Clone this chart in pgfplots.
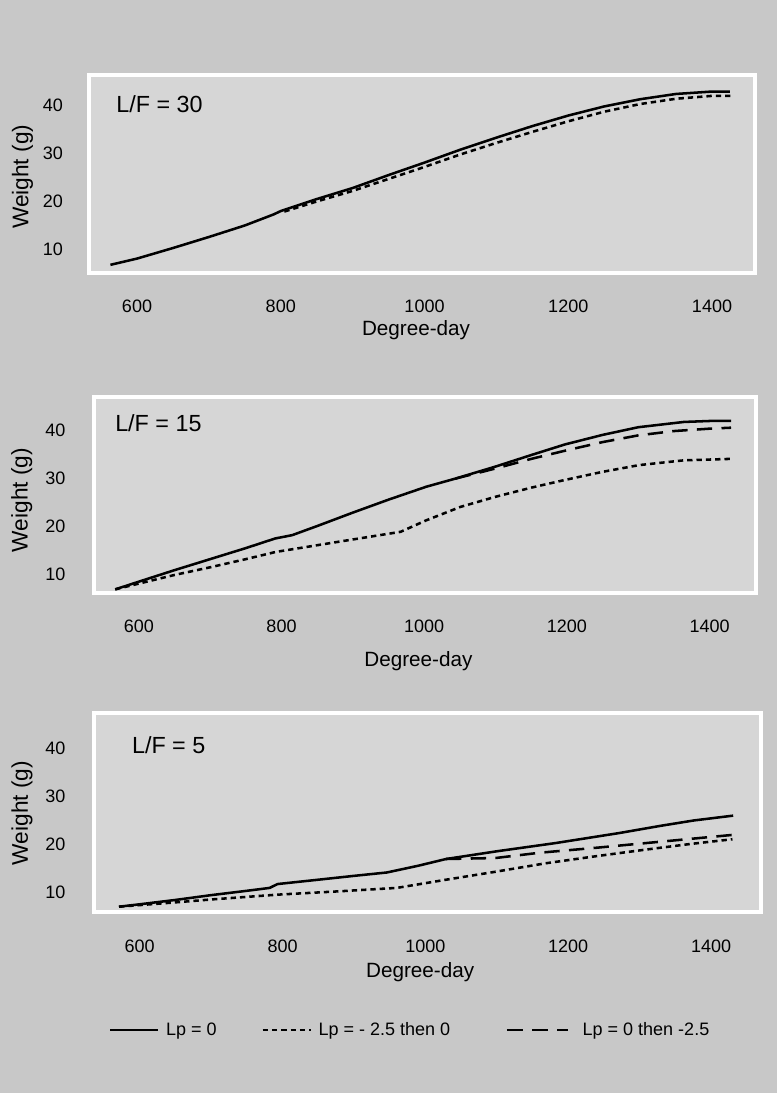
\documentclass[border=0pt]{standalone}
\usepackage{fontspec}
\setmainfont{Liberation Sans}
\usepackage{pgfplots}
\pgfplotsset{compat=1.18}
\definecolor{bggrey}{RGB}{200,200,200}
\definecolor{ingrey}{RGB}{214,214,214}
\pgfplotsset{
 panel/.style={
  scale only axis,
  anchor=south west,
  axis line style={draw=none},
  major tick length=0pt,
  tick style={draw=none},
  xtick={600,800,1000,1200,1400},
  ytick={10,20,30,40},
  /pgf/number format/assume math mode=true,
  /pgf/number format/1000 sep={},
  tick label style={font=\fontsize{13.5}{15}\selectfont},
  xticklabel style={anchor=center},
  yticklabel style={anchor=center},
  axis background/.style={fill=ingrey, draw=white, line width=3.5pt},
  xlabel style={font=\fontsize{15.5}{18}\selectfont, anchor=center},
  ylabel style={font=\fontsize{17}{19}\selectfont, anchor=center},
  xlabel={Degree-day},
  ylabel={Weight (g)},
  clip=false,
 },
 lp0/.style={black, line width=1.9pt},
 lpa/.style={black, line width=1.9pt, dash pattern=on 4pt off 3pt},
 lpb/.style={black, line width=1.9pt, dash pattern=on 11.5pt off 7pt},
 longleg/.style={legend image code/.code={\draw[black, line width=1.9pt, dash pattern=on 12pt off 7pt] (0pt,0pt) -- (46pt,0pt);}},
}
\begin{document}
\begin{tikzpicture}
\useasboundingbox (0,0) rectangle (582.75pt,819.75pt);
\fill[bggrey] (0,0) rectangle (582.75pt,819.75pt);

% Panel 1
\begin{axis}[panel, at={(66.75pt,615pt)}, width=499.5pt, height=148.5pt,
  xmin=533.2, xmax=1459.8, ymin=5.0, ymax=46.25,
  xticklabel style={yshift=-25.3pt},
  yticklabel style={xshift=-27pt},
  xlabel style={at={(axis description cs:0.491,-0.288)}},
  ylabel style={at={(axis description cs:-0.100,0.486)}}]
\addplot[lp0] coordinates {(563,6.7)(600,8.0)(650,10.2)(700,12.5)(750,14.9)(790,17.2)(800,17.9)(850,20.4)(900,22.7)(950,25.4)(1000,28.0)(1050,30.7)(1100,33.2)(1150,35.6)(1200,37.8)(1250,39.7)(1300,41.2)(1350,42.3)(1400,42.8)(1425,42.8)};
\addplot[lpa] coordinates {(805,17.8)(850,19.9)(900,22.1)(950,24.6)(1000,27.1)(1050,29.7)(1100,32.1)(1150,34.4)(1200,36.6)(1250,38.6)(1300,40.2)(1350,41.3)(1400,41.9)(1428,41.9)};
\node[anchor=west, font=\fontsize{17.5}{19}\selectfont] at (axis description cs:0.034,0.854) {L/F = 30};
\end{axis}

% Panel 2
\begin{axis}[panel, at={(70.5pt,375pt)}, width=496.5pt, height=147pt,
  xmin=537.2, xmax=1465, ymin=6.04, ymax=46.9,
  xticklabel style={yshift=-25.3pt},
  yticklabel style={xshift=-29pt},
  xlabel style={at={(axis description cs:0.49,-0.350)}},
  ylabel style={at={(axis description cs:-0.109,0.474)}}]
\addplot[lp0] coordinates {(567,6.8)(600,8.4)(650,10.8)(700,13.1)(750,15.4)(791,17.4)(815,18.1)(850,20.0)(900,22.8)(950,25.5)(1003,28.2)(1044,29.9)(1100,32.4)(1150,34.8)(1197,37.0)(1250,39.0)(1300,40.6)(1364,41.7)(1400,41.9)(1430,41.9)};
\addplot[lpa] coordinates {(567,6.8)(600,8.0)(650,9.8)(700,11.4)(750,13.1)(792,14.6)(850,16.0)(900,17.2)(967,18.8)(1003,21.2)(1051,24.0)(1100,26.1)(1150,28.0)(1197,29.6)(1250,31.3)(1301,32.7)(1364,33.7)(1430,34.0)};
\addplot[lpb] coordinates {(1044,29.9)(1100,32.0)(1150,34.0)(1200,35.8)(1250,37.5)(1300,38.9)(1350,39.8)(1400,40.3)(1430,40.5)};
\node[anchor=west, font=\fontsize{17.5}{19}\selectfont] at (axis description cs:0.025,0.867) {L/F = 15};
\end{axis}

% Panel 3
\begin{axis}[panel, at={(70.5pt,135.75pt)}, width=500.25pt, height=149.25pt,
  xmin=536, xmax=1470, ymin=6.0, ymax=47.3,
  xticklabel style={yshift=-26pt},
  yticklabel style={xshift=-29pt},
  xlabel style={at={(axis description cs:0.489,-0.300)}},
  ylabel style={at={(axis description cs:-0.108,0.497)}},
  legend columns=3,
  legend cell align=left,
  legend image code/.code={\draw[#1] (0pt,0pt) -- (36pt,0pt);},
  legend style={draw=none, fill=none, inner sep=0pt,
    at={(axis description cs:0.022,-0.593)}, anchor=west,
    font=\fontsize{13.5}{15}\selectfont,
    /tikz/every odd column/.append style={column sep=3pt},
    /tikz/every even column/.append style={column sep=31.5pt}}]
\addplot[lp0] coordinates {(571,7.1)(600,7.6)(650,8.5)(700,9.5)(750,10.4)(782,11.0)(793,11.8)(850,12.7)(900,13.5)(946,14.2)(990,15.6)(1029,17.0)(1100,18.6)(1182,20.3)(1272,22.4)(1330,23.9)(1376,25.0)(1431,26.0)};
\addlegendentry{Lp = 0}
\addplot[lpa] coordinates {(571,7.1)(650,8.0)(700,8.6)(793,9.6)(880,10.3)(960,11.0)(1029,12.7)(1100,14.4)(1168,16.1)(1240,17.6)(1306,18.9)(1370,20.1)(1430,21.1)};
\addlegendentry{Lp = - 2.5 then 0\rule{8pt}{0pt}}
\addplot[lpb, longleg] coordinates {(1029,17.0)(1098,17.2)(1160,18.3)(1237,19.3)(1330,20.6)(1430,22.0)};
\addlegendentry{\hspace{5pt}Lp = 0 then -2.5}
\node[anchor=west, font=\fontsize{17.5}{19}\selectfont] at (axis description cs:0.05,0.839) {L/F = 5};
\end{axis}
\end{tikzpicture}
\end{document}
